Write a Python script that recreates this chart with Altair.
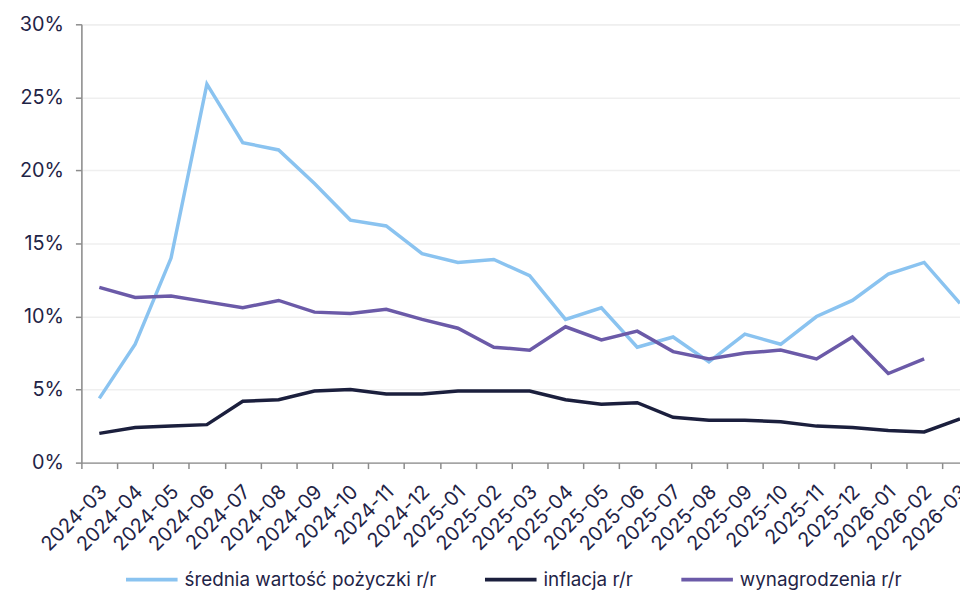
import json
import altair as alt
import pandas as pd

months = ["2024-03", "2024-04", "2024-05", "2024-06", "2024-07", "2024-08", "2024-09",
          "2024-10", "2024-11", "2024-12", "2025-01", "2025-02", "2025-03", "2025-04",
          "2025-05", "2025-06", "2025-07", "2025-08", "2025-09", "2025-10", "2025-11",
          "2025-12", "2026-01", "2026-02", "2026-03"]

loan = [4.4, 8.1, 14.0, 25.9, 21.9, 21.4, 19.1, 16.6, 16.2, 14.3, 13.7, 13.9, 12.8,
        9.8, 10.6, 7.9, 8.6, 6.9, 8.8, 8.1, 10.0, 11.1, 12.9, 13.7, 10.9]
inflation = [2.0, 2.4, 2.5, 2.6, 4.2, 4.3, 4.9, 5.0, 4.7, 4.7, 4.9, 4.9, 4.9,
             4.3, 4.0, 4.1, 3.1, 2.9, 2.9, 2.8, 2.5, 2.4, 2.2, 2.1, 3.0]
wages = [12.0, 11.3, 11.4, 11.0, 10.6, 11.1, 10.3, 10.2, 10.5, 9.8, 9.2, 7.9, 7.7,
         9.3, 8.4, 9.0, 7.6, 7.1, 7.5, 7.7, 7.1, 8.6, 6.1, 7.1, None]

series_names = ["średnia wartość pożyczki r/r", "inflacja r/r", "wynagrodzenia r/r"]
series_colors = ["#8ac3f0", "#1b1f3d", "#6b5aa8"]

rows = []
for name, vals in zip(series_names, [loan, inflation, wages]):
    for i, (m, v) in enumerate(zip(months, vals)):
        if v is not None:
            rows.append({"i": i, "month": m, "series": name, "v": v})
df = pd.DataFrame(rows)

FONT = "Inter"
TXT = "#1f2447"
AX = "#8c8c8c"

n = len(months)
plot_w = 886
band = plot_w / (n - 0.5)
tick_vals = [k - 0.5 for k in range(n)]
label_expr = json.dumps(months) + "[round(datum.value + 0.5)]"

chart = alt.Chart(df).mark_line(strokeWidth=3.5, strokeJoin="miter").encode(
    x=alt.X("i:Q",
            scale=alt.Scale(domain=[-0.5, n - 1], nice=False, zero=False),
            axis=alt.Axis(values=tick_vals, labelExpr=label_expr, labelOffset=band / 2 - 3,
                          labelAngle=-45, labelOverlap=False, labelFlush=False, labelBound=False,
                          grid=False, domainColor=AX, domainWidth=1.5, tickColor=AX,
                          tickWidth=1.5, tickSize=6, labelFont=FONT, labelFontSize=20,
                          labelColor=TXT, labelPadding=13, title=None)),
    y=alt.Y("v:Q",
            scale=alt.Scale(domain=[0, 30], nice=False),
            axis=alt.Axis(values=[0, 5, 10, 15, 20, 25, 30], labelExpr="datum.value + '%'",
                          grid=True, gridColor="#efefef", gridWidth=1.5,
                          domainColor=AX, domainWidth=1.5, tickColor=AX, tickWidth=1.5,
                          tickSize=6, labelFont=FONT, labelFontSize=20, labelColor=TXT,
                          labelPadding=12, title=None)),
    color=alt.Color("series:N",
                    scale=alt.Scale(domain=series_names, range=series_colors),
                    legend=alt.Legend(orient="none", legendX=43, legendY=532,
                                      direction="horizontal", title=None,
                                      symbolType="stroke", symbolSize=2704,
                                      symbolStrokeWidth=4, labelFont=FONT,
                                      labelFontSize=19, labelColor=TXT, labelLimit=500,
                                      columnPadding=40, padding=0, labelOffset=5)),
    order=alt.Order("i:Q"),
).properties(
    width=plot_w, height=442,
    autosize=alt.AutoSizeParams(type="none"),
    padding={"left": 74, "top": 14, "right": 0, "bottom": 126},
).configure_view(stroke=None).configure(background="white")

chart.save("out.html", embed_options={"renderer": "svg", "actions": False})
